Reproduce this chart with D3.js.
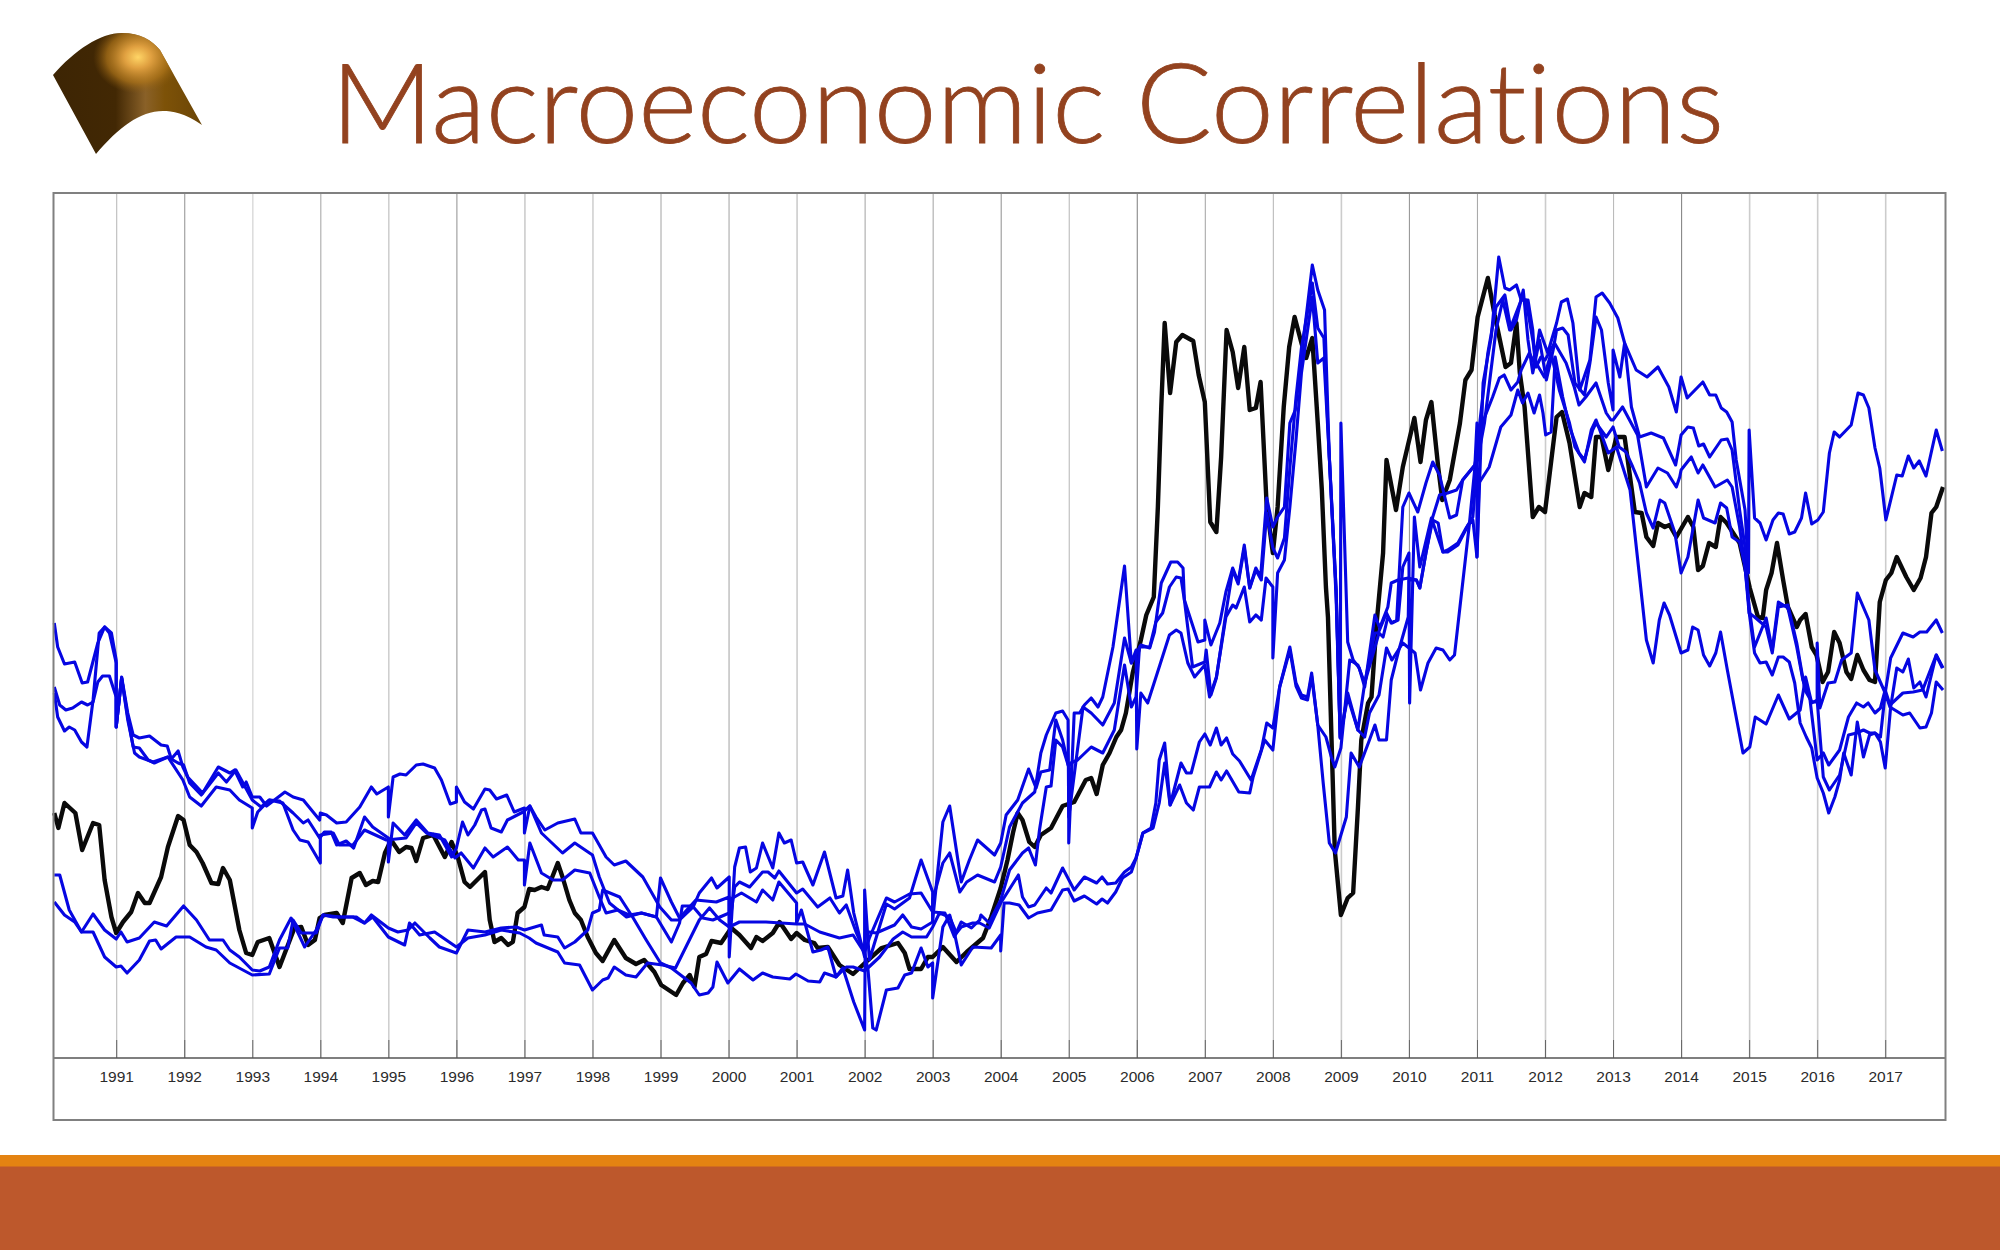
<!DOCTYPE html>
<html>
<head>
<meta charset="utf-8">
<title>Macroeconomic Correlations</title>
<script src="https://cdnjs.cloudflare.com/ajax/libs/d3/7.8.5/d3.min.js"></script>
<style>
  html, body { margin: 0; padding: 0; background: #fff; }
  svg { display: block; }
  .tick text { font-family: "Liberation Sans", Arial, sans-serif; }
</style>
</head>
<body>
<svg width="2000" height="1250"></svg>
<script>
// values, y axis has no labels so units are arbitrary (0 = axis, 865 = top of frame)
var years = d3.range(1991, 2018);

var blackLine = [[1990.09,245],[1990.15,230],[1990.24,255],[1990.40,245],[1990.50,208],[1990.66,235],[1990.75,233],[1990.83,178],[1990.93,141],[1991.00,125],[1991.10,136],[1991.22,146],[1991.32,165],[1991.42,155],[1991.49,155],[1991.66,181],[1991.76,211],[1991.91,242],[1991.99,238],[1992.08,213],[1992.18,206],[1992.27,195],[1992.40,175],[1992.50,174],[1992.57,190],[1992.67,178],[1992.81,128],[1992.91,105],[1993.00,103],[1993.08,116],[1993.25,120],[1993.40,91],[1993.62,130],[1993.72,131],[1993.82,113],[1993.92,118],[1993.99,140],[1994.06,143],[1994.24,145],[1994.33,135],[1994.46,180],[1994.58,185],[1994.67,173],[1994.77,177],[1994.85,176],[1994.95,205],[1995.04,218],[1995.16,206],[1995.26,211],[1995.34,210],[1995.41,197],[1995.51,220],[1995.66,223],[1995.83,201],[1995.93,216],[1996.02,201],[1996.12,176],[1996.20,171],[1996.42,186],[1996.49,138],[1996.56,116],[1996.66,120],[1996.76,113],[1996.83,116],[1996.90,145],[1997.00,151],[1997.07,169],[1997.15,168],[1997.25,171],[1997.34,169],[1997.49,195],[1997.56,181],[1997.66,158],[1997.74,145],[1997.83,138],[1997.93,121],[1998.05,105],[1998.15,97],[1998.32,118],[1998.49,100],[1998.64,94],[1998.76,98],[1998.91,86],[1999.01,73],[1999.23,63],[1999.33,75],[1999.43,83],[1999.50,71],[1999.57,101],[1999.67,104],[1999.75,117],[1999.89,115],[2000.04,130],[2000.16,123],[2000.33,110],[2000.41,121],[2000.50,117],[2000.65,125],[2000.75,136],[2000.92,119],[2001.00,125],[2001.12,118],[2001.26,115],[2001.31,110],[2001.46,111],[2001.63,93],[2001.83,84],[2002.02,96],[2002.25,110],[2002.49,115],[2002.59,105],[2002.66,89],[2002.83,89],[2002.93,101],[2003.00,101],[2003.15,111],[2003.35,96],[2003.50,106],[2003.74,120],[2003.86,141],[2004.00,170],[2004.10,198],[2004.18,225],[2004.25,245],[2004.32,238],[2004.42,216],[2004.50,211],[2004.59,223],[2004.74,230],[2004.91,252],[2005.08,256],[2005.25,278],[2005.33,280],[2005.41,264],[2005.50,293],[2005.60,305],[2005.70,321],[2005.77,328],[2005.84,345],[2005.94,385],[2006.06,418],[2006.14,443],[2006.25,461],[2006.31,551],[2006.36,651],[2006.41,735],[2006.49,665],[2006.58,716],[2006.67,723],[2006.83,717],[2006.91,683],[2007.00,656],[2007.08,536],[2007.17,526],[2007.24,601],[2007.32,728],[2007.41,706],[2007.49,670],[2007.58,711],[2007.66,648],[2007.75,650],[2007.82,676],[2007.91,551],[2008.00,505],[2008.07,551],[2008.16,651],[2008.24,711],[2008.32,741],[2008.42,715],[2008.49,700],[2008.58,720],[2008.66,635],[2008.72,568],[2008.78,471],[2008.81,441],[2008.91,208],[2009.00,143],[2009.10,160],[2009.18,165],[2009.25,250],[2009.30,318],[2009.40,355],[2009.45,361],[2009.52,431],[2009.62,505],[2009.67,598],[2009.81,548],[2009.91,591],[2010.08,640],[2010.17,596],[2010.25,638],[2010.33,656],[2010.43,591],[2010.49,558],[2010.60,578],[2010.75,635],[2010.83,678],[2010.92,688],[2011.01,741],[2011.16,780],[2011.26,743],[2011.42,691],[2011.50,695],[2011.58,735],[2011.63,685],[2011.70,651],[2011.82,541],[2011.91,551],[2012.00,546],[2012.17,641],[2012.25,646],[2012.36,615],[2012.51,551],[2012.58,565],[2012.68,561],[2012.75,621],[2012.83,621],[2012.93,588],[2013.05,621],[2013.17,621],[2013.32,546],[2013.42,545],[2013.49,521],[2013.59,512],[2013.66,535],[2013.76,531],[2013.83,533],[2013.93,521],[2014.10,541],[2014.18,531],[2014.25,488],[2014.32,492],[2014.41,515],[2014.51,511],[2014.58,541],[2014.67,535],[2014.86,515],[2015.01,470],[2015.13,441],[2015.20,440],[2015.25,468],[2015.33,485],[2015.41,515],[2015.50,478],[2015.57,451],[2015.70,431],[2015.75,438],[2015.83,444],[2015.92,411],[2015.99,403],[2016.08,376],[2016.16,386],[2016.25,426],[2016.33,415],[2016.43,386],[2016.50,379],[2016.59,403],[2016.68,388],[2016.77,378],[2016.85,376],[2016.92,456],[2017.01,478],[2017.09,485],[2017.17,501],[2017.31,481],[2017.42,468],[2017.52,480],[2017.60,501],[2017.68,545],[2017.75,551],[2017.85,571]];

var blue1 = [[1990.09,435],[1990.14,411],[1990.24,394],[1990.39,396],[1990.50,375],[1990.58,376],[1990.73,415],[1990.83,431],[1990.90,425],[1991.00,395],[1991.00,331],[1991.08,381],[1991.17,345],[1991.25,323],[1991.34,320],[1991.49,322],[1991.66,313],[1991.75,312],[1991.81,299],[1991.91,307],[1991.98,291],[1992.05,281],[1992.27,265],[1992.50,291],[1992.67,285],[1992.74,288],[1992.86,271],[1992.91,276],[1993.00,261],[1993.11,261],[1993.21,252],[1993.48,266],[1993.60,261],[1993.75,258],[1993.99,238],[1994.00,245],[1994.09,243],[1994.24,235],[1994.38,236],[1994.58,251],[1994.75,271],[1994.83,264],[1995.00,271],[1995.00,241],[1995.07,281],[1995.17,284],[1995.26,283],[1995.41,293],[1995.51,294],[1995.68,290],[1995.78,278],[1995.91,254],[1996.00,256],[1996.00,271],[1996.12,256],[1996.25,249],[1996.42,269],[1996.49,268],[1996.59,259],[1996.74,263],[1996.85,246],[1997.00,250],[1997.00,225],[1997.08,252],[1997.17,241],[1997.30,228],[1997.49,235],[1997.74,239],[1997.83,225],[1998.00,225],[1998.20,201],[1998.32,193],[1998.49,197],[1998.74,181],[1998.99,151],[1999.16,138],[1999.28,138],[1999.48,151],[1999.57,165],[1999.75,180],[1999.83,170],[2000.01,181],[2000.01,101],[2000.09,191],[2000.16,210],[2000.25,211],[2000.32,186],[2000.41,190],[2000.50,215],[2000.65,190],[2000.74,225],[2000.82,215],[2000.92,218],[2001.00,195],[2001.09,196],[2001.24,173],[2001.41,206],[2001.58,160],[2001.68,162],[2001.75,188],[2001.84,145],[2002.00,101],[2002.00,168],[2002.07,98],[2002.32,154],[2002.44,149],[2002.66,160],[2002.83,198],[2003.00,166],[2003.00,138],[2003.15,236],[2003.25,252],[2003.42,176],[2003.54,198],[2003.66,218],[2003.91,203],[2004.00,215],[2004.08,243],[2004.25,258],[2004.41,289],[2004.52,270],[2004.59,286],[2004.72,288],[2004.81,338],[2004.91,318],[2005.00,291],[2005.00,215],[2005.08,345],[2005.16,345],[2005.23,353],[2005.33,360],[2005.43,351],[2005.50,361],[2005.65,411],[2005.82,492],[2005.92,395],[2005.99,408],[2006.00,309],[2006.06,365],[2006.16,355],[2006.33,391],[2006.48,423],[2006.58,428],[2006.65,425],[2006.75,395],[2006.85,381],[2007.00,393],[2007.07,361],[2007.17,381],[2007.31,441],[2007.41,453],[2007.46,450],[2007.58,471],[2007.66,436],[2007.75,443],[2007.83,438],[2007.90,480],[2008.00,471],[2008.00,400],[2008.07,485],[2008.17,498],[2008.25,551],[2008.34,618],[2008.42,685],[2008.58,761],[2008.66,695],[2008.75,700],[2008.83,601],[2008.93,468],[2008.99,320],[2009.00,635],[2009.10,416],[2009.18,398],[2009.27,390],[2009.35,371],[2009.50,443],[2009.57,430],[2009.69,451],[2009.74,475],[2009.84,478],[2009.99,480],[2010.11,478],[2010.16,470],[2010.25,505],[2010.35,541],[2010.45,563],[2010.57,565],[2010.70,568],[2010.79,578],[2010.97,593],[2011.00,635],[2011.00,501],[2011.09,675],[2011.21,721],[2011.32,801],[2011.41,770],[2011.48,768],[2011.58,773],[2011.65,758],[2011.75,758],[2011.82,728],[2011.85,698],[2011.92,728],[2012.04,705],[2012.17,735],[2012.24,756],[2012.33,759],[2012.41,735],[2012.51,668],[2012.66,698],[2012.75,761],[2012.84,765],[2012.95,755],[2013.07,740],[2013.17,715],[2013.34,688],[2013.50,681],[2013.66,691],[2013.82,671],[2013.93,646],[2014.00,681],[2014.09,660],[2014.32,676],[2014.42,663],[2014.51,663],[2014.59,650],[2014.67,646],[2014.75,636],[2014.81,598],[2014.94,548],[2014.99,485],[2015.00,628],[2015.08,540],[2015.16,535],[2015.25,518],[2015.35,538],[2015.43,545],[2015.50,544],[2015.59,524],[2015.67,526],[2015.77,540],[2015.83,565],[2015.92,534],[2016.01,538],[2016.09,546],[2016.18,605],[2016.25,626],[2016.33,621],[2016.50,633],[2016.60,665],[2016.68,663],[2016.76,650],[2016.85,610],[2016.92,590],[2017.01,538],[2017.17,583],[2017.25,582],[2017.34,602],[2017.42,590],[2017.50,597],[2017.60,582],[2017.75,628],[2017.84,607]];

var blue2 = [[1990.09,371],[1990.17,353],[1990.26,348],[1990.36,350],[1990.49,356],[1990.58,353],[1990.66,356],[1990.73,376],[1990.80,382],[1990.90,382],[1991.00,361],[1991.00,331],[1991.08,380],[1991.17,341],[1991.25,311],[1991.34,310],[1991.47,298],[1991.56,295],[1991.76,301],[1991.91,295],[1991.99,293],[1992.08,275],[1992.25,263],[1992.50,285],[1992.62,276],[1992.76,288],[1993.00,258],[1993.13,251],[1993.25,258],[1993.40,257],[1993.60,245],[1993.75,235],[1993.82,238],[1993.99,220],[1994.06,226],[1994.16,226],[1994.24,213],[1994.38,217],[1994.49,210],[1994.65,241],[1994.77,231],[1995.00,220],[1995.00,196],[1995.07,235],[1995.24,223],[1995.41,238],[1995.58,225],[1995.75,223],[1995.93,201],[1996.00,210],[1996.09,236],[1996.17,223],[1996.27,233],[1996.37,248],[1996.42,249],[1996.51,230],[1996.66,226],[1996.75,238],[1996.98,246],[1997.08,252],[1997.25,225],[1997.56,205],[1997.74,215],[1998.00,203],[1998.10,181],[1998.25,155],[1998.50,141],[1998.72,145],[1998.94,141],[1999.00,180],[1999.16,156],[1999.28,140],[1999.52,158],[1999.82,156],[2000.01,161],[2000.01,131],[2000.09,171],[2000.16,176],[2000.31,171],[2000.50,186],[2000.58,186],[2000.68,180],[2000.74,187],[2001.00,165],[2001.09,169],[2001.31,151],[2001.49,160],[2001.63,145],[2001.73,153],[2001.88,125],[2002.00,106],[2002.07,120],[2002.32,160],[2002.44,156],[2002.66,164],[2002.83,165],[2003.00,146],[2003.00,158],[2003.15,195],[2003.25,205],[2003.40,166],[2003.50,176],[2003.66,183],[2003.91,176],[2004.00,191],[2004.13,231],[2004.32,255],[2004.50,266],[2004.59,305],[2004.67,323],[2004.81,345],[2004.91,347],[2004.99,338],[2005.00,241],[2005.21,351],[2005.33,345],[2005.50,333],[2005.67,355],[2005.82,420],[2005.92,395],[2006.06,413],[2006.19,410],[2006.26,426],[2006.36,475],[2006.50,496],[2006.60,496],[2006.68,490],[2006.70,458],[2006.90,416],[2007.00,418],[2007.00,438],[2007.09,413],[2007.22,435],[2007.31,466],[2007.41,490],[2007.49,476],[2007.58,513],[2007.66,470],[2007.75,490],[2007.82,481],[2007.91,560],[2008.00,531],[2008.07,541],[2008.17,551],[2008.25,635],[2008.33,648],[2008.42,701],[2008.58,793],[2008.66,768],[2008.76,748],[2008.83,601],[2008.93,468],[2008.99,321],[2009.10,361],[2009.25,328],[2009.35,321],[2009.42,345],[2009.56,363],[2009.67,410],[2009.75,398],[2009.91,415],[2010.09,405],[2010.17,368],[2010.28,395],[2010.40,410],[2010.50,408],[2010.60,398],[2010.67,403],[2010.84,505],[2010.89,535],[2010.99,605],[2011.16,705],[2011.28,751],[2011.41,763],[2011.50,728],[2011.58,738],[2011.68,768],[2011.75,718],[2011.82,685],[2011.92,718],[2012.02,678],[2012.12,708],[2012.17,728],[2012.26,730],[2012.34,723],[2012.44,675],[2012.58,663],[2012.66,695],[2012.75,741],[2012.83,728],[2012.93,675],[2013.00,648],[2013.00,708],[2013.10,681],[2013.17,715],[2013.27,651],[2013.39,621],[2013.56,625],[2013.74,620],[2013.92,593],[2014.00,623],[2014.10,631],[2014.18,630],[2014.26,612],[2014.33,614],[2014.42,601],[2014.59,618],[2014.68,619],[2014.75,608],[2014.86,548],[2014.94,511],[2015.00,446],[2015.08,405],[2015.16,395],[2015.25,396],[2015.34,383],[2015.43,401],[2015.50,401],[2015.59,396],[2015.67,375],[2015.75,335],[2015.84,321],[2015.92,310],[2016.00,280],[2016.09,265],[2016.17,245],[2016.26,261],[2016.33,278],[2016.39,305],[2016.50,283],[2016.59,336],[2016.68,301],[2016.77,323],[2016.85,325],[2016.93,316],[2017.00,290],[2017.08,351],[2017.17,390],[2017.26,386],[2017.34,399],[2017.42,370],[2017.51,376],[2017.60,361],[2017.75,403],[2017.84,390]];

var blue3 = [[1990.09,365],[1990.14,341],[1990.24,327],[1990.31,331],[1990.39,328],[1990.49,316],[1990.57,311],[1990.66,358],[1990.75,425],[1990.83,431],[1990.93,425],[1991.00,398],[1991.00,331],[1991.08,380],[1991.17,338],[1991.27,305],[1991.34,301],[1991.54,296],[1991.76,301],[1991.98,278],[1992.08,261],[1992.25,252],[1992.47,271],[1992.67,268],[1992.81,258],[1993.00,250],[1993.00,230],[1993.08,246],[1993.25,258],[1993.45,255],[1993.60,228],[1993.70,218],[1993.82,216],[1994.00,195],[1994.00,223],[1994.19,225],[1994.28,213],[1994.48,213],[1994.65,228],[1994.97,218],[1995.26,220],[1995.41,235],[1995.56,225],[1995.83,218],[1995.98,200],[1996.07,205],[1996.25,190],[1996.42,210],[1996.54,201],[1996.75,211],[1996.91,198],[1997.00,198],[1997.00,173],[1997.08,215],[1997.25,185],[1997.42,178],[1997.56,178],[1997.74,188],[1997.96,185],[1998.10,161],[1998.20,145],[1998.37,148],[1998.54,143],[1998.72,145],[1998.94,141],[1999.16,116],[1999.28,135],[1999.32,152],[1999.47,152],[1999.62,140],[1999.77,138],[2000.01,145],[2000.01,158],[2000.19,165],[2000.41,156],[2000.50,168],[2000.65,158],[2000.74,176],[2001.00,155],[2001.00,135],[2001.07,148],[2001.24,106],[2001.36,108],[2001.46,111],[2001.58,81],[2001.68,90],[2001.84,56],[2002.00,28],[2002.01,125],[2002.07,126],[2002.17,125],[2002.44,133],[2002.56,143],[2002.69,131],[2002.83,129],[2003.00,136],[2003.00,146],[2003.18,145],[2003.32,121],[2003.42,136],[2003.57,130],[2003.69,138],[2003.71,143],[2003.83,135],[2004.00,158],[2004.13,188],[2004.32,205],[2004.41,210],[2004.51,193],[2004.57,228],[2004.67,271],[2004.74,272],[2004.81,318],[2004.91,311],[2005.00,291],[2005.03,295],[2005.13,298],[2005.33,311],[2005.50,305],[2005.67,328],[2005.82,393],[2005.92,351],[2005.99,361],[2006.04,411],[2006.19,411],[2006.28,436],[2006.38,445],[2006.48,471],[2006.58,481],[2006.65,480],[2006.70,458],[2006.82,391],[2007.00,396],[2007.02,408],[2007.09,363],[2007.17,380],[2007.31,445],[2007.41,488],[2007.49,474],[2007.58,510],[2007.66,470],[2007.75,488],[2007.83,478],[2007.91,545],[2008.00,510],[2008.07,500],[2008.17,520],[2008.25,590],[2008.34,660],[2008.42,710],[2008.58,775],[2008.66,730],[2008.75,720],[2008.83,600],[2008.93,460],[2008.99,320],[2009.10,365],[2009.25,328],[2009.35,375],[2009.50,425],[2009.55,425],[2009.67,445],[2009.74,435],[2009.82,438],[2009.91,551],[2010.00,565],[2010.13,546],[2010.25,575],[2010.35,596],[2010.45,583],[2010.60,540],[2010.70,543],[2010.79,578],[2010.97,593],[2011.08,635],[2011.23,661],[2011.33,680],[2011.40,683],[2011.50,668],[2011.60,676],[2011.65,688],[2011.77,705],[2011.87,691],[2011.94,701],[2012.00,698],[2012.14,715],[2012.31,695],[2012.43,671],[2012.50,653],[2012.60,661],[2012.75,675],[2012.90,645],[2012.97,638],[2013.00,638],[2013.14,651],[2013.36,623],[2013.49,571],[2013.66,590],[2013.80,585],[2013.93,571],[2013.98,581],[2014.00,588],[2014.15,601],[2014.25,585],[2014.32,593],[2014.50,571],[2014.68,578],[2014.75,571],[2014.86,531],[2014.94,491],[2015.00,445],[2015.08,441],[2015.25,431],[2015.34,405],[2015.43,451],[2015.57,453],[2015.70,415],[2015.82,368],[2015.92,356],[2016.00,356],[2016.00,415],[2016.04,350],[2016.16,375],[2016.26,376],[2016.36,398],[2016.50,405],[2016.59,465],[2016.76,438],[2016.85,388],[2017.00,365],[2017.08,400],[2017.26,425],[2017.41,421],[2017.51,426],[2017.61,426],[2017.75,438],[2017.84,425]];

var blue4 = [[1990.09,183],[1990.17,183],[1990.31,148],[1990.49,126],[1990.66,144],[1990.83,128],[1991.00,119],[1991.07,126],[1991.16,116],[1991.34,120],[1991.56,136],[1991.74,132],[1991.99,152],[1992.18,138],[1992.37,118],[1992.57,118],[1992.67,108],[1992.81,101],[1993.00,88],[1993.11,87],[1993.25,91],[1993.40,118],[1993.57,140],[1993.77,111],[1993.94,128],[1994.04,143],[1994.19,141],[1994.48,141],[1994.65,135],[1994.75,143],[1995.00,130],[1995.14,126],[1995.29,128],[1995.39,135],[1995.61,120],[1995.75,111],[1996.00,105],[1996.17,128],[1996.42,126],[1996.66,130],[1996.88,131],[1997.00,128],[1997.25,133],[1997.29,123],[1997.49,121],[1997.59,110],[1997.74,116],[1997.93,128],[1998.00,145],[1998.10,148],[1998.15,168],[1998.40,161],[1998.59,141],[1998.79,118],[1999.00,95],[1999.16,90],[1999.45,75],[1999.57,63],[1999.70,65],[1999.77,71],[1999.83,96],[1999.99,75],[2000.16,89],[2000.36,78],[2000.50,85],[2000.65,81],[2000.90,79],[2000.99,84],[2001.17,77],[2001.34,76],[2001.41,85],[2001.58,81],[2001.73,91],[2001.83,91],[2002.00,87],[2002.22,101],[2002.42,119],[2002.56,126],[2002.69,121],[2002.91,121],[2003.00,131],[2003.10,145],[2003.25,141],[2003.35,125],[2003.42,131],[2003.59,135],[2003.69,135],[2003.83,130],[2004.00,155],[2004.26,183],[2004.32,161],[2004.41,151],[2004.50,153],[2004.67,170],[2004.74,165],[2004.91,190],[2005.08,168],[2005.23,181],[2005.41,175],[2005.49,181],[2005.57,174],[2005.69,175],[2005.82,186],[2005.92,191],[2005.99,200],[2006.09,225],[2006.21,230],[2006.28,255],[2006.33,298],[2006.41,315],[2006.49,253],[2006.65,295],[2006.73,285],[2006.80,285],[2006.92,316],[2007.00,324],[2007.08,313],[2007.17,330],[2007.24,313],[2007.32,320],[2007.41,304],[2007.51,297],[2007.68,278],[2007.83,308],[2007.91,335],[2008.00,330],[2008.10,371],[2008.25,411],[2008.34,375],[2008.42,363],[2008.51,361],[2008.57,385],[2008.66,333],[2008.78,321],[2008.86,301],[2008.91,291],[2009.00,310],[2009.13,398],[2009.25,393],[2009.35,375],[2009.56,425],[2009.62,421],[2009.69,441],[2009.75,435],[2009.84,438],[2009.91,491],[2010.00,505],[2010.01,355],[2010.08,541],[2010.16,491],[2010.33,540],[2010.50,506],[2010.57,506],[2010.72,513],[2010.87,533],[2010.94,538],[2011.00,501],[2011.03,575],[2011.18,591],[2011.35,631],[2011.50,643],[2011.60,668],[2011.67,655],[2011.75,665],[2011.84,645],[2011.92,663],[2011.97,645],[2012.01,623],[2012.09,626],[2012.15,701],[2012.26,661],[2012.36,631],[2012.50,605],[2012.58,598],[2012.70,628],[2012.75,635],[2012.90,621],[2013.00,631],[2013.09,611],[2013.19,606],[2013.29,591],[2013.39,575],[2013.49,545],[2013.59,530],[2013.69,558],[2013.76,555],[2013.91,525],[2014.00,485],[2014.10,501],[2014.18,531],[2014.25,558],[2014.33,540],[2014.50,535],[2014.58,555],[2014.67,550],[2014.75,521],[2014.86,516],[2014.94,491],[2015.00,451],[2015.08,411],[2015.25,440],[2015.34,408],[2015.43,456],[2015.57,450],[2015.70,411],[2015.79,378],[2015.89,361],[2016.00,298],[2016.09,305],[2016.17,293],[2016.33,308],[2016.46,341],[2016.58,355],[2016.68,351],[2016.75,355],[2016.85,345],[2016.93,350],[2017.00,368],[2017.07,353],[2017.26,365],[2017.41,366],[2017.55,368],[2017.75,403],[2017.85,390]];

var blue5 = [[1990.09,156],[1990.24,143],[1990.39,136],[1990.49,126],[1990.66,126],[1990.83,101],[1991.00,91],[1991.07,92],[1991.16,85],[1991.34,98],[1991.49,117],[1991.58,118],[1991.66,109],[1991.88,121],[1992.08,121],[1992.32,111],[1992.47,108],[1992.67,95],[1993.00,83],[1993.25,84],[1993.40,110],[1993.52,110],[1993.60,138],[1993.72,125],[1993.94,125],[1994.04,143],[1994.28,141],[1994.53,141],[1994.65,135],[1994.77,141],[1995.00,121],[1995.24,113],[1995.31,135],[1995.46,123],[1995.68,126],[1996.00,111],[1996.17,120],[1996.42,123],[1996.66,128],[1996.93,125],[1997.07,120],[1997.17,115],[1997.49,106],[1997.59,95],[1997.81,93],[1998.00,68],[1998.15,78],[1998.23,80],[1998.32,91],[1998.49,83],[1998.64,81],[1998.81,95],[1999.03,93],[1999.22,90],[1999.57,138],[1999.72,150],[1999.87,138],[2000.01,131],[2000.16,136],[2000.55,136],[2001.00,134],[2001.12,134],[2001.34,126],[2001.63,120],[2001.83,123],[2002.00,105],[2002.05,88],[2002.12,30],[2002.17,28],[2002.32,68],[2002.49,70],[2002.59,83],[2002.69,85],[2002.83,110],[2002.93,91],[2003.00,95],[2003.00,60],[2003.15,131],[2003.25,143],[2003.32,125],[2003.42,93],[2003.59,111],[2003.86,110],[2004.00,123],[2004.00,107],[2004.05,155],[2004.13,155],[2004.27,153],[2004.41,140],[2004.54,145],[2004.74,148],[2004.91,168],[2004.99,169],[2005.08,157],[2005.23,162],[2005.41,154],[2005.49,159],[2005.57,155],[2005.69,166],[2005.79,180],[2005.92,186],[2005.99,200],[2006.09,225],[2006.24,230],[2006.33,255],[2006.41,295],[2006.49,253],[2006.63,273],[2006.73,255],[2006.83,248],[2006.92,271],[2007.07,271],[2007.17,286],[2007.24,278],[2007.32,287],[2007.50,266],[2007.66,265],[2007.71,281],[2007.88,318],[2008.00,308],[2008.10,371],[2008.25,408],[2008.34,372],[2008.42,360],[2008.51,358],[2008.57,382],[2008.66,333],[2008.74,275],[2008.83,215],[2008.92,205],[2009.08,241],[2009.15,305],[2009.27,291],[2009.42,318],[2009.50,333],[2009.56,318],[2009.67,318],[2009.74,378],[2009.84,405],[2009.99,441],[2010.00,478],[2010.11,478],[2010.16,470],[2010.25,505],[2010.35,538],[2010.43,535],[2010.50,506],[2010.57,508],[2010.72,515],[2010.84,530],[2010.94,541],[2011.00,595],[2011.11,635],[2011.28,728],[2011.38,758],[2011.48,728],[2011.65,758],[2011.72,758],[2011.82,718],[2011.87,695],[2011.99,681],[2012.09,705],[2012.21,668],[2012.36,635],[2012.44,611],[2012.58,596],[2012.68,628],[2012.75,638],[2012.93,605],[2013.05,611],[2013.25,568],[2013.39,481],[2013.49,418],[2013.59,395],[2013.68,438],[2013.75,455],[2013.83,443],[2014.00,405],[2014.10,408],[2014.17,431],[2014.25,428],[2014.33,403],[2014.42,392],[2014.51,405],[2014.58,426],[2014.68,388],[2014.79,348],[2014.91,305],[2015.01,311],[2015.09,341],[2015.25,334],[2015.43,363],[2015.59,339],[2015.75,348],[2015.83,381],[2015.92,355],[2016.00,358],[2016.09,281],[2016.18,268],[2016.33,283],[2016.46,323],[2016.58,325],[2016.68,328],[2016.77,325],[2016.85,325],[2016.93,321],[2017.00,365],[2017.07,351],[2017.26,343],[2017.36,345],[2017.51,330],[2017.60,331],[2017.68,345],[2017.75,376],[2017.85,368]];

var blues = [blue1, blue2, blue3, blue4, blue5];

// how light each year's grid line came out in the scanned slide
var gridGrey = ["#bbb","#999","#ddd","#aaa","#bbb","#999","#ccc","#bbb","#aaa","#aaa","#ccc","#aaa","#aaa","#999","#bbb","#888","#aaa","#bbb","#ccc","#999","#aaa","#ccc","#bbb","#888","#ccc","#ccc","#ccc"];

var svg = d3.select("svg"),
    frame = {top: 193, right: 1945.5, bottom: 1120, left: 53.5},
    axisY = 1058;

var defs = svg.append("defs");

var x = d3.scaleLinear().domain([1991, 2017]).range([116.2, 1885.2]);
var y = d3.scaleLinear().domain([0, 865]).range([axisY, frame.top]);

// logo, the little saddle surface top left
var logoBase = defs.append("linearGradient").attr("id", "logoBase")
    .attr("x1", 0).attr("y1", 0.5).attr("x2", 1).attr("y2", 0.5);
logoBase.append("stop").attr("offset", "0%").attr("stop-color", "#3d2504");
logoBase.append("stop").attr("offset", "42%").attr("stop-color", "#422804");
logoBase.append("stop").attr("offset", "62%").attr("stop-color", "#8a6128");
logoBase.append("stop").attr("offset", "75%").attr("stop-color", "#7d5208");
logoBase.append("stop").attr("offset", "100%").attr("stop-color", "#6b4506");

var logoShine = defs.append("radialGradient").attr("id", "logoShine")
    .attr("cx", 0.57).attr("cy", 0.2).attr("r", 0.3);
logoShine.append("stop").attr("offset", "0%").attr("stop-color", "#ffd566");
logoShine.append("stop").attr("offset", "30%").attr("stop-color", "#e0a040");
logoShine.append("stop").attr("offset", "70%").attr("stop-color", "#b0761a").attr("stop-opacity", 0.7);
logoShine.append("stop").attr("offset", "100%").attr("stop-color", "#8a5a10").attr("stop-opacity", 0);

var logoPath = "M53,75 C75,50 100,33 122,33 C140,33 152,40 160,50 L202,125 C185,113 172,111 163,111 C140,111 118,128 96,154 Z";
svg.append("path").attr("d", logoPath).attr("fill", "url(#logoBase)");
svg.append("path").attr("d", logoPath).attr("fill", "url(#logoShine)");

svg.append("text")
    .attr("x", 331)
    .attr("y", 143)
    .attr("textLength", 1393)
    .attr("lengthAdjust", "spacingAndGlyphs")
    .style("font-family", "Lato, 'Open Sans', sans-serif")
    .style("font-weight", 300)
    .style("font-variant-ligatures", "none")
    .style("font-size", "110px")
    .style("fill", "#93421f")
    .style("stroke", "#93421f")
    .style("stroke-width", 0.8)
    .text("Macroeconomic Correlations");

// year grid, runs up from the axis to the top of the frame
var grid = svg.append("g")
    .attr("transform", "translate(0," + axisY + ")")
    .call(d3.axisBottom(x).tickValues(years).tickSize(-(axisY - frame.top)).tickFormat(""));
grid.select(".domain").remove();
grid.selectAll(".tick line")
    .attr("stroke", function(d, i) { return gridGrey[i]; })
    .attr("stroke-width", function(d, i) { return gridGrey[i] == "#ddd" || gridGrey[i] == "#ccc" ? 1.6 : 1.1; });

var line = d3.line()
    .x(function(d) { return x(d[0]); })
    .y(function(d) { return y(d[1]); });

// black first, blue sits on top of it
svg.append("path")
    .datum(blackLine)
    .attr("fill", "none")
    .attr("stroke", "#0a0a0a")
    .attr("stroke-width", 4.4)
    .attr("stroke-linejoin", "round")
    .attr("d", line);

svg.selectAll(".blue")
    .data(blues)
    .enter()
    .append("path")
    .attr("class", "blue")
    .attr("fill", "none")
    .attr("stroke", "#0606e2")
    .attr("stroke-width", 3.1)
    .attr("stroke-linejoin", "round")
    .attr("d", line);

// axis with the short dark ticks and year labels
var axis = svg.append("g")
    .attr("transform", "translate(0," + axisY + ")")
    .call(d3.axisBottom(x).tickValues(years).tickSize(-18).tickPadding(24).tickFormat(d3.format("d")));
axis.select(".domain").remove();
axis.selectAll(".tick line").attr("stroke", "#666").attr("stroke-width", 1);
axis.selectAll(".tick text")
    .attr("dy", 0)
    .attr("y", 24)
    .style("font-size", "15.5px")
    .style("fill", "#2b2b2b");

svg.append("line")
    .attr("x1", frame.left).attr("x2", frame.right)
    .attr("y1", axisY).attr("y2", axisY)
    .attr("stroke", "#555").attr("stroke-width", 1.5);

svg.append("rect")
    .attr("x", frame.left).attr("y", frame.top)
    .attr("width", frame.right - frame.left)
    .attr("height", frame.bottom - frame.top)
    .attr("fill", "none")
    .attr("stroke", "#808080")
    .attr("stroke-width", 2);

// bands at the bottom of the slide
svg.append("rect").attr("x", 0).attr("y", 1155).attr("width", 2000).attr("height", 12).attr("fill", "#e48312");
svg.append("rect").attr("x", 0).attr("y", 1166.5).attr("width", 2000).attr("height", 83.5).attr("fill", "#bd582c");
</script>
</body>
</html>
